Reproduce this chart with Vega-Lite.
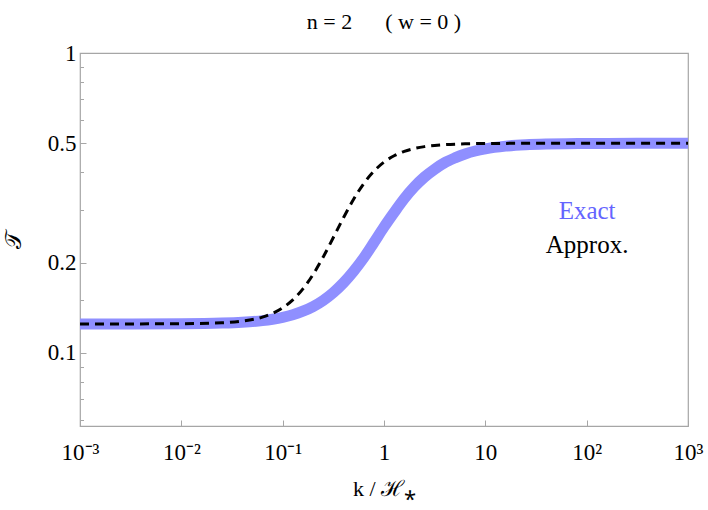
{
  "$schema": "https://vega.github.io/schema/vega-lite/v6.json",
  "width": 608,
  "height": 373,
  "autosize": {"type": "none"},
  "padding": {"left": 80, "top": 53, "right": 20, "bottom": 84},
  "background": "white",
  "config": {
    "view": {"stroke": "#a6a6a6", "strokeWidth": 1.2},
    "font": "Liberation Serif"
  },
  "title": {
    "text": "n\u00a0=\u00a02\u00a0\u00a0\u00a0\u00a0\u00a0\u00a0(\u00a0w\u00a0=\u00a00\u00a0)",
    "font": "Liberation Serif",
    "fontSize": 22,
    "fontWeight": "normal",
    "color": "#000000",
    "offset": 8
  },
  "datasets": {
    "exact": [
      {"k": 0.001, "T": 0.125},
      {"k": 0.003162, "T": 0.12504},
      {"k": 0.01, "T": 0.1252},
      {"k": 0.02512, "T": 0.1258},
      {"k": 0.03981, "T": 0.1266},
      {"k": 0.0631, "T": 0.1282},
      {"k": 0.07943, "T": 0.1296},
      {"k": 0.1, "T": 0.1315},
      {"k": 0.1259, "T": 0.1341},
      {"k": 0.1585, "T": 0.1378},
      {"k": 0.1995, "T": 0.1428},
      {"k": 0.2512, "T": 0.1497},
      {"k": 0.3162, "T": 0.159},
      {"k": 0.3981, "T": 0.1713},
      {"k": 0.5012, "T": 0.1873},
      {"k": 0.631, "T": 0.2075},
      {"k": 0.7943, "T": 0.2333},
      {"k": 1, "T": 0.263},
      {"k": 1.259, "T": 0.294},
      {"k": 1.585, "T": 0.327},
      {"k": 1.995, "T": 0.358},
      {"k": 2.512, "T": 0.386},
      {"k": 3.162, "T": 0.41},
      {"k": 3.981, "T": 0.431},
      {"k": 5.012, "T": 0.447},
      {"k": 6.31, "T": 0.4606},
      {"k": 7.943, "T": 0.4712},
      {"k": 10, "T": 0.4791},
      {"k": 15.85, "T": 0.4892},
      {"k": 25.12, "T": 0.4945},
      {"k": 39.81, "T": 0.4972},
      {"k": 63.1, "T": 0.4986},
      {"k": 100, "T": 0.4993},
      {"k": 316.2, "T": 0.4999},
      {"k": 1000, "T": 0.5}
    ],
    "approx": [
      {"k": 0.001, "T": 0.125},
      {"k": 0.003162, "T": 0.12502},
      {"k": 0.01, "T": 0.12517},
      {"k": 0.02512, "T": 0.12608},
      {"k": 0.03981, "T": 0.1277},
      {"k": 0.0631, "T": 0.1317},
      {"k": 0.07943, "T": 0.1355},
      {"k": 0.1, "T": 0.1414},
      {"k": 0.1259, "T": 0.1503},
      {"k": 0.1585, "T": 0.1636},
      {"k": 0.1995, "T": 0.1827},
      {"k": 0.2512, "T": 0.2089},
      {"k": 0.3162, "T": 0.2426},
      {"k": 0.3981, "T": 0.2825},
      {"k": 0.5012, "T": 0.3254},
      {"k": 0.631, "T": 0.367},
      {"k": 0.7943, "T": 0.4034},
      {"k": 1, "T": 0.4327},
      {"k": 1.259, "T": 0.4545},
      {"k": 1.585, "T": 0.47},
      {"k": 1.995, "T": 0.4805},
      {"k": 2.512, "T": 0.4874},
      {"k": 3.162, "T": 0.492},
      {"k": 3.981, "T": 0.4949},
      {"k": 6.31, "T": 0.498},
      {"k": 10, "T": 0.4992},
      {"k": 25.12, "T": 0.4999},
      {"k": 100, "T": 0.5},
      {"k": 1000, "T": 0.5}
    ],
    "labels": [
      {"k": 101, "T": 0.297, "label": "Exact"},
      {"k": 101, "T": 0.229, "label": "Approx."}
    ]
  },
  "encoding": {
    "x": {
      "field": "k",
      "type": "quantitative",
      "scale": {"type": "log", "domain": [0.001, 1000], "nice": false},
      "axis": {
        "title": "k / ℋ⁎",
        "values": [0.001, 0.01, 0.1, 1, 10, 100, 1000],
        "labelExpr": "datum.value == 1 ? '1' : datum.value == 10 ? '10' : datum.value == 100 ? '10²' : datum.value == 1000 ? '10³' : datum.value == 0.1 ? '10⁻¹' : datum.value == 0.01 ? '10⁻²' : '10⁻³'",
        "domain": false,
        "grid": false,
        "tickSize": -6,
        "tickColor": "#a6a6a6",
        "labelPadding": 21,
        "labelFont": "Liberation Serif",
        "labelFontSize": 23,
        "labelColor": "#000000",
        "labelFlush": false,
        "titleFont": "Liberation Serif",
        "titleFontSize": 22,
        "titleFontWeight": "normal",
        "titleColor": "#000000",
        "titlePadding": 14
      }
    },
    "y": {
      "field": "T",
      "type": "quantitative",
      "scale": {"type": "log", "domain": [0.0571, 1], "nice": false},
      "axis": {
        "title": "𝒯",
        "values": [0.06, 0.07, 0.08, 0.09, 0.1, 0.15, 0.2, 0.3, 0.4, 0.5, 0.6, 0.7, 0.8, 0.9, 1],
        "labelExpr": "indexof([0.1, 0.2, 0.5, 1], datum.value) >= 0 ? toString(datum.value) : ''",
        "domain": false,
        "grid": false,
        "tickSize": {"condition": {"test": "indexof([0.1, 0.2, 0.5, 1], datum.value) >= 0", "value": -6}, "value": -3.5},
        "tickColor": "#a6a6a6",
        "labelPadding": 10,
        "labelFont": "Liberation Serif",
        "labelFontSize": 23,
        "labelColor": "#000000",
        "labelFlush": false,
        "titleFont": "DejaVu Serif",
        "titleFontSize": 23,
        "titleFontWeight": "normal",
        "titleColor": "#000000",
        "titlePadding": 22
      }
    }
  },
  "layer": [
    {
      "data": {"name": "exact"},
      "mark": {"type": "line", "color": "#8f8fff", "strokeWidth": 11, "interpolate": "monotone", "clip": true}
    },
    {
      "data": {"name": "approx"},
      "mark": {"type": "line", "color": "#000000", "strokeWidth": 3, "strokeDash": [9, 6], "interpolate": "monotone", "clip": true}
    },
    {
      "data": {"name": "labels"},
      "mark": {"type": "text", "font": "Liberation Serif", "fontSize": 25, "align": "center", "baseline": "middle"},
      "encoding": {
        "text": {"field": "label"},
        "color": {"field": "label", "type": "nominal", "scale": {"domain": ["Exact", "Approx."], "range": ["#6464ff", "#000000"]}, "legend": null}
      }
    }
  ]
}
